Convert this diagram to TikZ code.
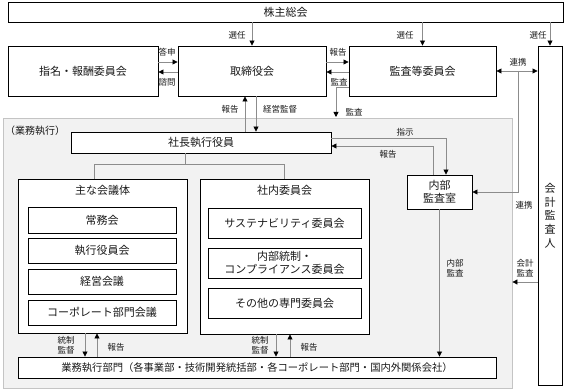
\documentclass[tikz,border=0pt]{standalone}
\usepackage{fontspec}
\setmainfont{Noto Sans CJK JP}
\usetikzlibrary{arrows.meta}
\definecolor{conncol}{HTML}{8C8C8C}
\definecolor{bizfill}{HTML}{F2F2F2}
\definecolor{bizline}{HTML}{C4C4C4}
\definecolor{txt}{HTML}{1A1A1A}
\begin{document}
\begin{tikzpicture}[x=1pt,y=-1pt,
  box/.style={draw=black,line width=0.9pt,fill=white,inner sep=0pt,text=txt,
    font=\fontsize{11}{13}\selectfont,align=center},
  bigtxt/.style={inner sep=0pt,text=txt,font=\fontsize{11}{13}\selectfont},
  conn/.style={draw=conncol,line width=0.8pt},
  arr/.style={conn,-{Triangle[length=5pt,width=5pt,color=black]}},
  darr/.style={conn,{Triangle[length=5pt,width=5pt,color=black]}-{Triangle[length=5pt,width=5pt,color=black]}},
  lbl/.style={font=\fontsize{8.5}{10}\selectfont,inner sep=0pt,align=center,text=txt},
]
\useasboundingbox (0,0) rectangle (566,390);
\fill[white] (0,0) rectangle (566,390);

% business execution area
\node[draw=bizline,fill=bizfill,line width=0.8pt,inner sep=0pt,
  minimum width=509pt,minimum height=270pt] (biz) at (257.5,253) {};
\node[inner sep=0pt,anchor=west,text=txt,font=\fontsize{10}{12}\selectfont] (bizlbl) at (5,131) {（業務執行）};

% top boxes
\node[box,minimum width=555pt,minimum height=20pt] (sh) at (285.5,12) {株主総会};
\node[box,minimum width=150pt,minimum height=50pt] (nom) at (83,71) {指名・報酬委員会};
\node[box,minimum width=148pt,minimum height=50pt] (bod) at (252,71) {取締役会};
\node[box,minimum width=147pt,minimum height=50pt] (aud) at (422.5,71) {監査等委員会};
\node[box,minimum width=24pt,minimum height=339pt,font=\fontsize{11}{13.7}\selectfont] (ext) at (550,215.5) {会\\計\\監\\査\\人};

% execution boxes
\node[box,minimum width=260pt,minimum height=21pt] (pres) at (201,142.5) {社長執行役員};
\node[box,minimum width=65pt,minimum height=34pt] (ia) at (439.5,192) {内部\\監査室};

\node[box,minimum width=169pt,minimum height=154pt] (mtg) at (102.5,256) {};
\node[bigtxt] (mtglbl) at (102.5,190) {主な会議体};
\node[box,minimum width=148pt,minimum height=26pt] (m1) at (102,220) {常務会};
\node[box,minimum width=148pt,minimum height=25pt] (m2) at (102,250.5) {執行役員会};
\node[box,minimum width=148pt,minimum height=25pt] (m3) at (102,281.5) {経営会議};
\node[box,minimum width=148pt,minimum height=25pt] (m4) at (102,312.5) {コーポレート部門会議};

\node[box,minimum width=169pt,minimum height=155pt] (com) at (284.5,256.5) {};
\node[bigtxt] (comlbl) at (284.5,190) {社内委員会};
\node[box,minimum width=153pt,minimum height=30pt] (c1) at (284.5,223) {サステナビリティ委員会};
\node[box,minimum width=153pt,minimum height=30pt] (c2) at (284.5,263) {内部統制・\\コンプライアンス委員会};
\node[box,minimum width=153pt,minimum height=30pt] (c3) at (284.5,303) {その他の専門委員会};

\node[box,minimum width=478pt,minimum height=21pt,font=\fontsize{10.3}{12}\selectfont] (dept) at (257,367.5)
  {業務執行部門（各事業部・技術開発統括部・各コーポレート部門・国内外関係会社）};

% helper coordinates
\coordinate (yA) at (0,87);
\coordinate (kd) at (336,117);
\coordinate (lk) at (518,71);
\coordinate (yK) at (0,282);
\coordinate (tj) at (185,164);
\coordinate (tl) at (94,164);
\coordinate (tr) at (284,164);
\coordinate (b1) at (85,0);
\coordinate (b2) at (97,0);
\coordinate (b3) at (276,0);
\coordinate (b4) at (290,0);

% connectors
\draw[arr] (bod.north |- sh.south) -- (bod.north);
\draw[arr] (aud.north |- sh.south) -- (aud.north);
\draw[arr] (ext.north |- sh.south) -- (ext.north);
\draw[arr] ([yshift=9pt]nom.east) -- ([yshift=9pt]bod.west);
\draw[arr] ([yshift=-1pt]bod.west) -- ([yshift=-1pt]nom.east);
\draw[arr] ([yshift=9pt]bod.east) -- ([yshift=9pt]aud.west);
\draw[arr] ([yshift=-1pt]aud.west) -- ([yshift=-1pt]bod.east);
\draw[arr] (aud.west |- yA) -| (kd);
\draw[darr] (aud.east) -- (aud.east -| ext.west);
\draw[arr] (lk) |- (ia.east);
\draw[arr] ([xshift=-7pt]bod.south |- pres.north) -- ([xshift=-7pt]bod.south);
\draw[arr] ([xshift=4pt]bod.south) -- ([xshift=4pt]bod.south |- pres.north);
\draw[arr] ([yshift=4.5pt]pres.east) -| ([xshift=6.5pt]ia.north);
\draw[arr] ([xshift=-6.5pt]ia.north) |- ([yshift=-3.5pt]pres.east);
\draw[arr] (ia.south) -- (ia.south |- dept.north);
\draw[arr] (ext.west |- yK) -- (biz.east |- yK);
\draw[conn] (pres.south -| tj) -- (tj);
\draw[conn] (tl |- mtg.north) -- (tl) -- (tr) -- (tr |- com.north);
\draw[arr] (b1 |- mtg.south) -- (b1 |- dept.north);
\draw[arr] (b2 |- dept.north) -- (b2 |- mtg.south);
\draw[arr] (b3 |- com.south) -- (b3 |- dept.north);
\draw[arr] (b4 |- dept.north) -- (b4 |- com.south);

% labels
\node[lbl] (l1) at (237,35) {選任};
\node[lbl] (l2) at (405,35) {選任};
\node[lbl] (l3) at (538,35) {選任};
\node[lbl] (l4) at (167,52) {答申};
\node[lbl] (l5) at (167,82) {諮問};
\node[lbl] (l6) at (338,52) {報告};
\node[lbl] (l7) at (339,82) {監査};
\node[lbl] (l8) at (354,112) {監査};
\node[lbl] (l9) at (518,62) {連携};
\node[lbl] (l10) at (230,109) {報告};
\node[lbl] (l11) at (280,109) {経営監督};
\node[lbl] (l12) at (405,132) {指示};
\node[lbl] (l13) at (388,154) {報告};
\node[lbl] (l14) at (524,205) {連携};
\node[lbl] (l15) at (455,268.5) {内部\\監査};
\node[lbl] (l16) at (525,268.5) {会計\\監査};
\node[lbl] (l17) at (66,345) {統制\\監督};
\node[lbl] (l18) at (116,347) {報告};
\node[lbl] (l19) at (260,345) {統制\\監督};
\node[lbl] (l20) at (309,347) {報告};
\end{tikzpicture}
\end{document}
